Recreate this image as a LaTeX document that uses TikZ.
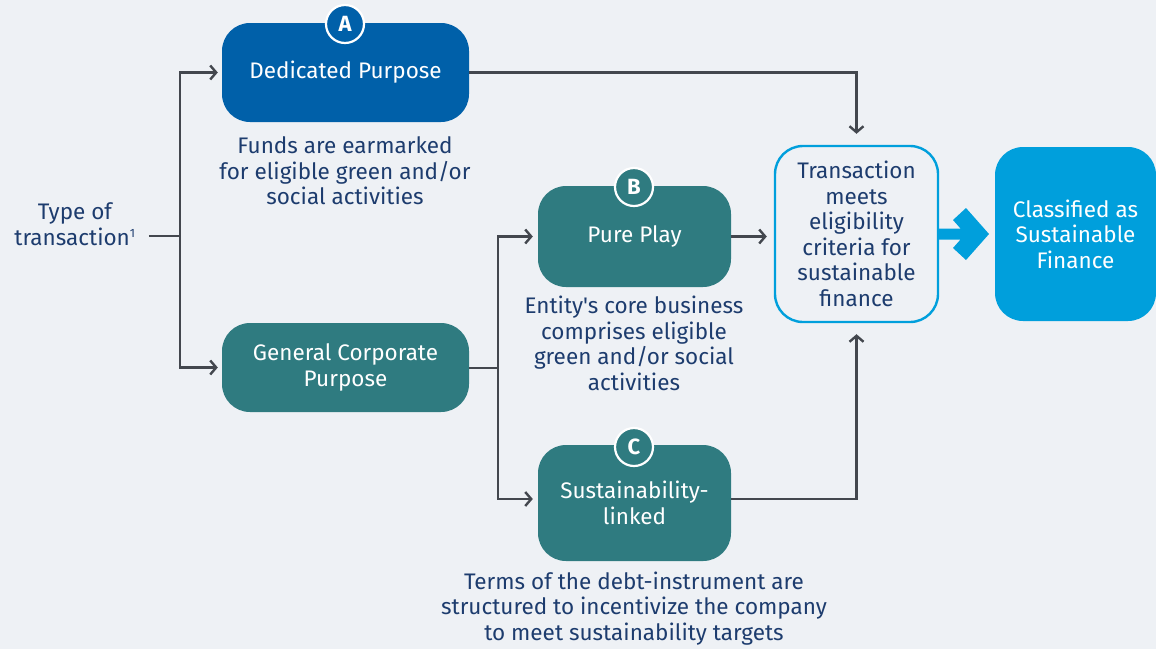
\documentclass[tikz,border=0pt]{standalone}
\usepackage{fontspec}
\setmainfont{Fira Sans}[Ligatures=TeXOff]
\usetikzlibrary{arrows.meta}
\definecolor{bg}{HTML}{EEF1F5}
\definecolor{navy}{HTML}{1D3C6E}
\definecolor{dblue}{HTML}{0060A9}
\definecolor{teal}{HTML}{2F7B80}
\definecolor{lblue}{HTML}{009FDC}
\definecolor{lgray}{HTML}{43474E}
\tikzset{
  box/.style={rectangle, rounded corners=28pt, align=center, text=white, inner sep=0pt},
  lbl/.style={align=center, text=navy, inner sep=0pt},
  badge/.style={circle, draw=white, line width=2.2pt, minimum size=38pt, inner sep=0pt, text=white, font=\fontsize{22}{22}\selectfont\bfseries},
  conn/.style={draw=lgray, line width=2.4pt},
  arr/.style={conn, -{Straight Barb[length=6pt,width=14pt,line width=2.4pt]}},
}
\begin{document}
\begin{tikzpicture}[x=1pt,y=-1pt, font=\fontsize{22.5}{25.5}\selectfont]
\useasboundingbox (0,0) rectangle (1156,649);
\fill[bg] (0,0) rectangle (1156,649);

% main nodes
\node[box, fill=dblue, minimum width=247pt, minimum height=99pt] (A) at (345.5,72.5) {Dedicated Purpose};
\node[box, fill=teal, minimum width=247pt, minimum height=89pt] (G) at (345.5,367.5) {General Corporate\\Purpose};
\node[box, fill=teal, minimum width=193pt, minimum height=101pt] (B) at (634.5,236.5) {Pure Play};
\node[box, fill=teal, minimum width=193pt, minimum height=116pt] (C) at (634.5,503) {Sustainability-\\linked};
\node[box, fill=bg, draw=lblue, line width=2.4pt, text=navy, minimum width=163pt, minimum height=176pt] (T) at (856.5,234) {Transaction\\meets\\eligibility\\criteria for\\sustainable\\finance};
\node[box, fill=lblue, minimum width=161pt, minimum height=174pt] (S) at (1075.5,234) {Classified as\\Sustainable\\Finance};

% badges
\node[badge, fill=dblue] (bA) at (345,24) {A};
\node[badge, fill=teal] (bB) at (634,187) {B};
\node[badge, fill=teal] (bC) at (634,447) {C};

% labels
\node[lbl] (type) at (75,224) {Type of\\transaction\textsuperscript{\fontsize{12}{12}\selectfont 1}};
\node[lbl] (la) at (345,171) {Funds are earmarked\\for eligible green and/or\\social activities};
\node[lbl] (lb) at (634,343.5) {Entity's core business\\comprises eligible\\green and/or social\\activities};
\node[lbl] (lc) at (634,608.5) {Terms of the debt-instrument are\\structured to incentivize the company\\to meet sustainability targets};

% junctions
\coordinate (j1) at (180,236);
\coordinate (j2) at (498,368);

% connectors
\draw[conn, shorten <=13pt] (type.east |- j1) -- (j1);
\draw[arr, shorten >=4pt] (j1) |- (A.west);
\draw[arr, shorten >=4pt] (j1) |- (G.west);
\draw[arr, shorten >=11pt] (A.east) -| (T.north);
\draw[conn] (G.east |- j2) -- (j2);
\draw[arr, shorten >=5pt] (j2) |- (B.west);
\draw[arr, shorten >=5pt] (j2) |- ([yshift=4pt]C.west);
\draw[arr, shorten >=7pt] (B.east) -- (T.west |- B.east);
\draw[arr, shorten >=11pt] ([yshift=4pt]C.east) -| (T.south);

% big arrow
\fill[lblue] (938,228.5) -- (960.5,228.5) -- (953,220) -- (966,208) -- (989,234) -- (966,260) -- (953,248) -- (960.5,239.5) -- (938,239.5) -- cycle;
\end{tikzpicture}
\end{document}
